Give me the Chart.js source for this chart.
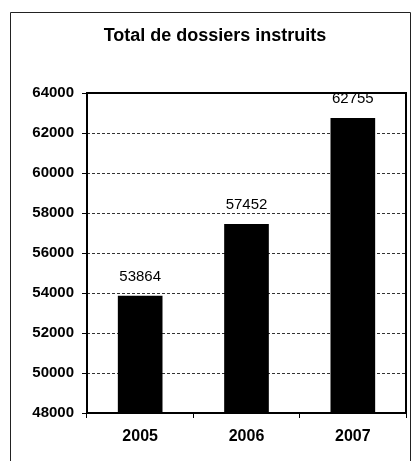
<!DOCTYPE html>
<html>
<head>
<meta charset="utf-8">
<script src="https://cdn.jsdelivr.net/npm/chart.js@4"></script>
<style>
  html, body { margin: 0; padding: 0; background: #fff; }
  canvas { display: block; }
</style>
</head>
<body>
<canvas id="dossiersChart" width="412" height="461"></canvas>
<script>
// data
const years = ['2005', '2006', '2007'];
const dossiers = [53864, 57452, 62755];
const yMin = 48000;
const yMax = 64000;
const yStep = 2000;
const chartTitle = 'Total de dossiers instruits';

const FONT = "'Liberation Sans', Arial, sans-serif";

// outer frame, title, and the solid box round the plot area
const framePlugin = {
  id: 'frame',
  beforeDraw(chart) {
    const ctx = chart.ctx;
    ctx.save();
    ctx.fillStyle = '#fff';
    ctx.fillRect(0, 0, chart.width, chart.height);
    ctx.strokeStyle = '#222';
    ctx.lineWidth = 1;
    ctx.beginPath();
    ctx.moveTo(10.5, chart.height);
    ctx.lineTo(10.5, 12.5);
    ctx.lineTo(410.5, 12.5);
    ctx.lineTo(410.5, chart.height);
    ctx.stroke();

    ctx.font = 'bold 18px ' + FONT;
    ctx.fillStyle = '#000';
    ctx.textAlign = 'center';
    ctx.textBaseline = 'middle';
    ctx.fillText(chartTitle, 215, 36);
    ctx.restore();
  },
  afterDraw(chart) {
    const a = chart.chartArea;
    const ctx = chart.ctx;
    ctx.save();
    ctx.strokeStyle = '#000';
    ctx.lineWidth = 2;
    ctx.strokeRect(a.left, a.top, a.right - a.left, a.bottom - a.top);
    ctx.restore();
  }
};

// value written above each bar
const valueLabels = {
  id: 'valueLabels',
  afterDatasetsDraw(chart) {
    const ctx = chart.ctx;
    const meta = chart.getDatasetMeta(0);
    ctx.save();
    ctx.font = '15px ' + FONT;
    ctx.fillStyle = '#000';
    ctx.textAlign = 'center';
    ctx.textBaseline = 'middle';
    meta.data.forEach((bar, i) => {
      ctx.fillText(String(dossiers[i]), bar.x, bar.y - 19);
    });
    ctx.restore();
  }
};

new Chart(document.getElementById('dossiersChart'), {
  type: 'bar',
  data: {
    labels: years,
    datasets: [{
      data: dossiers,
      backgroundColor: '#000',
      borderWidth: 0,
      barPercentage: 0.42,
      categoryPercentage: 1
    }]
  },
  options: {
    responsive: false,
    animation: false,
    layout: { padding: { left: 0, right: 6, top: 93, bottom: 0 } },
    plugins: {
      legend: { display: false },
      tooltip: { enabled: false },
      title: { display: false }
    },
    scales: {
      x: {
        grid: {
          drawOnChartArea: false,
          drawTicks: true,
          tickLength: 5,
          tickColor: '#000',
          offset: true
        },
        border: { display: false },
        ticks: {
          color: '#000',
          font: { family: FONT, size: 16, weight: 'bold' },
          padding: 9
        },
        afterFit(scale) { scale.height = 48; }
      },
      y: {
        min: yMin,
        max: yMax,
        grid: {
          color: '#333',
          lineWidth: 1,
          tickBorderDash: [],
          tickColor: '#000',
          tickLength: 5
        },
        border: { display: false, dash: [3, 2] },
        ticks: {
          stepSize: yStep,
          color: '#000',
          font: { family: FONT, size: 15, weight: 'bold' },
          padding: 8,
          callback: (v) => String(v)
        },
        afterFit(scale) { scale.width = 87; }
      }
    }
  },
  plugins: [framePlugin, valueLabels]
});
</script>
</body>
</html>
